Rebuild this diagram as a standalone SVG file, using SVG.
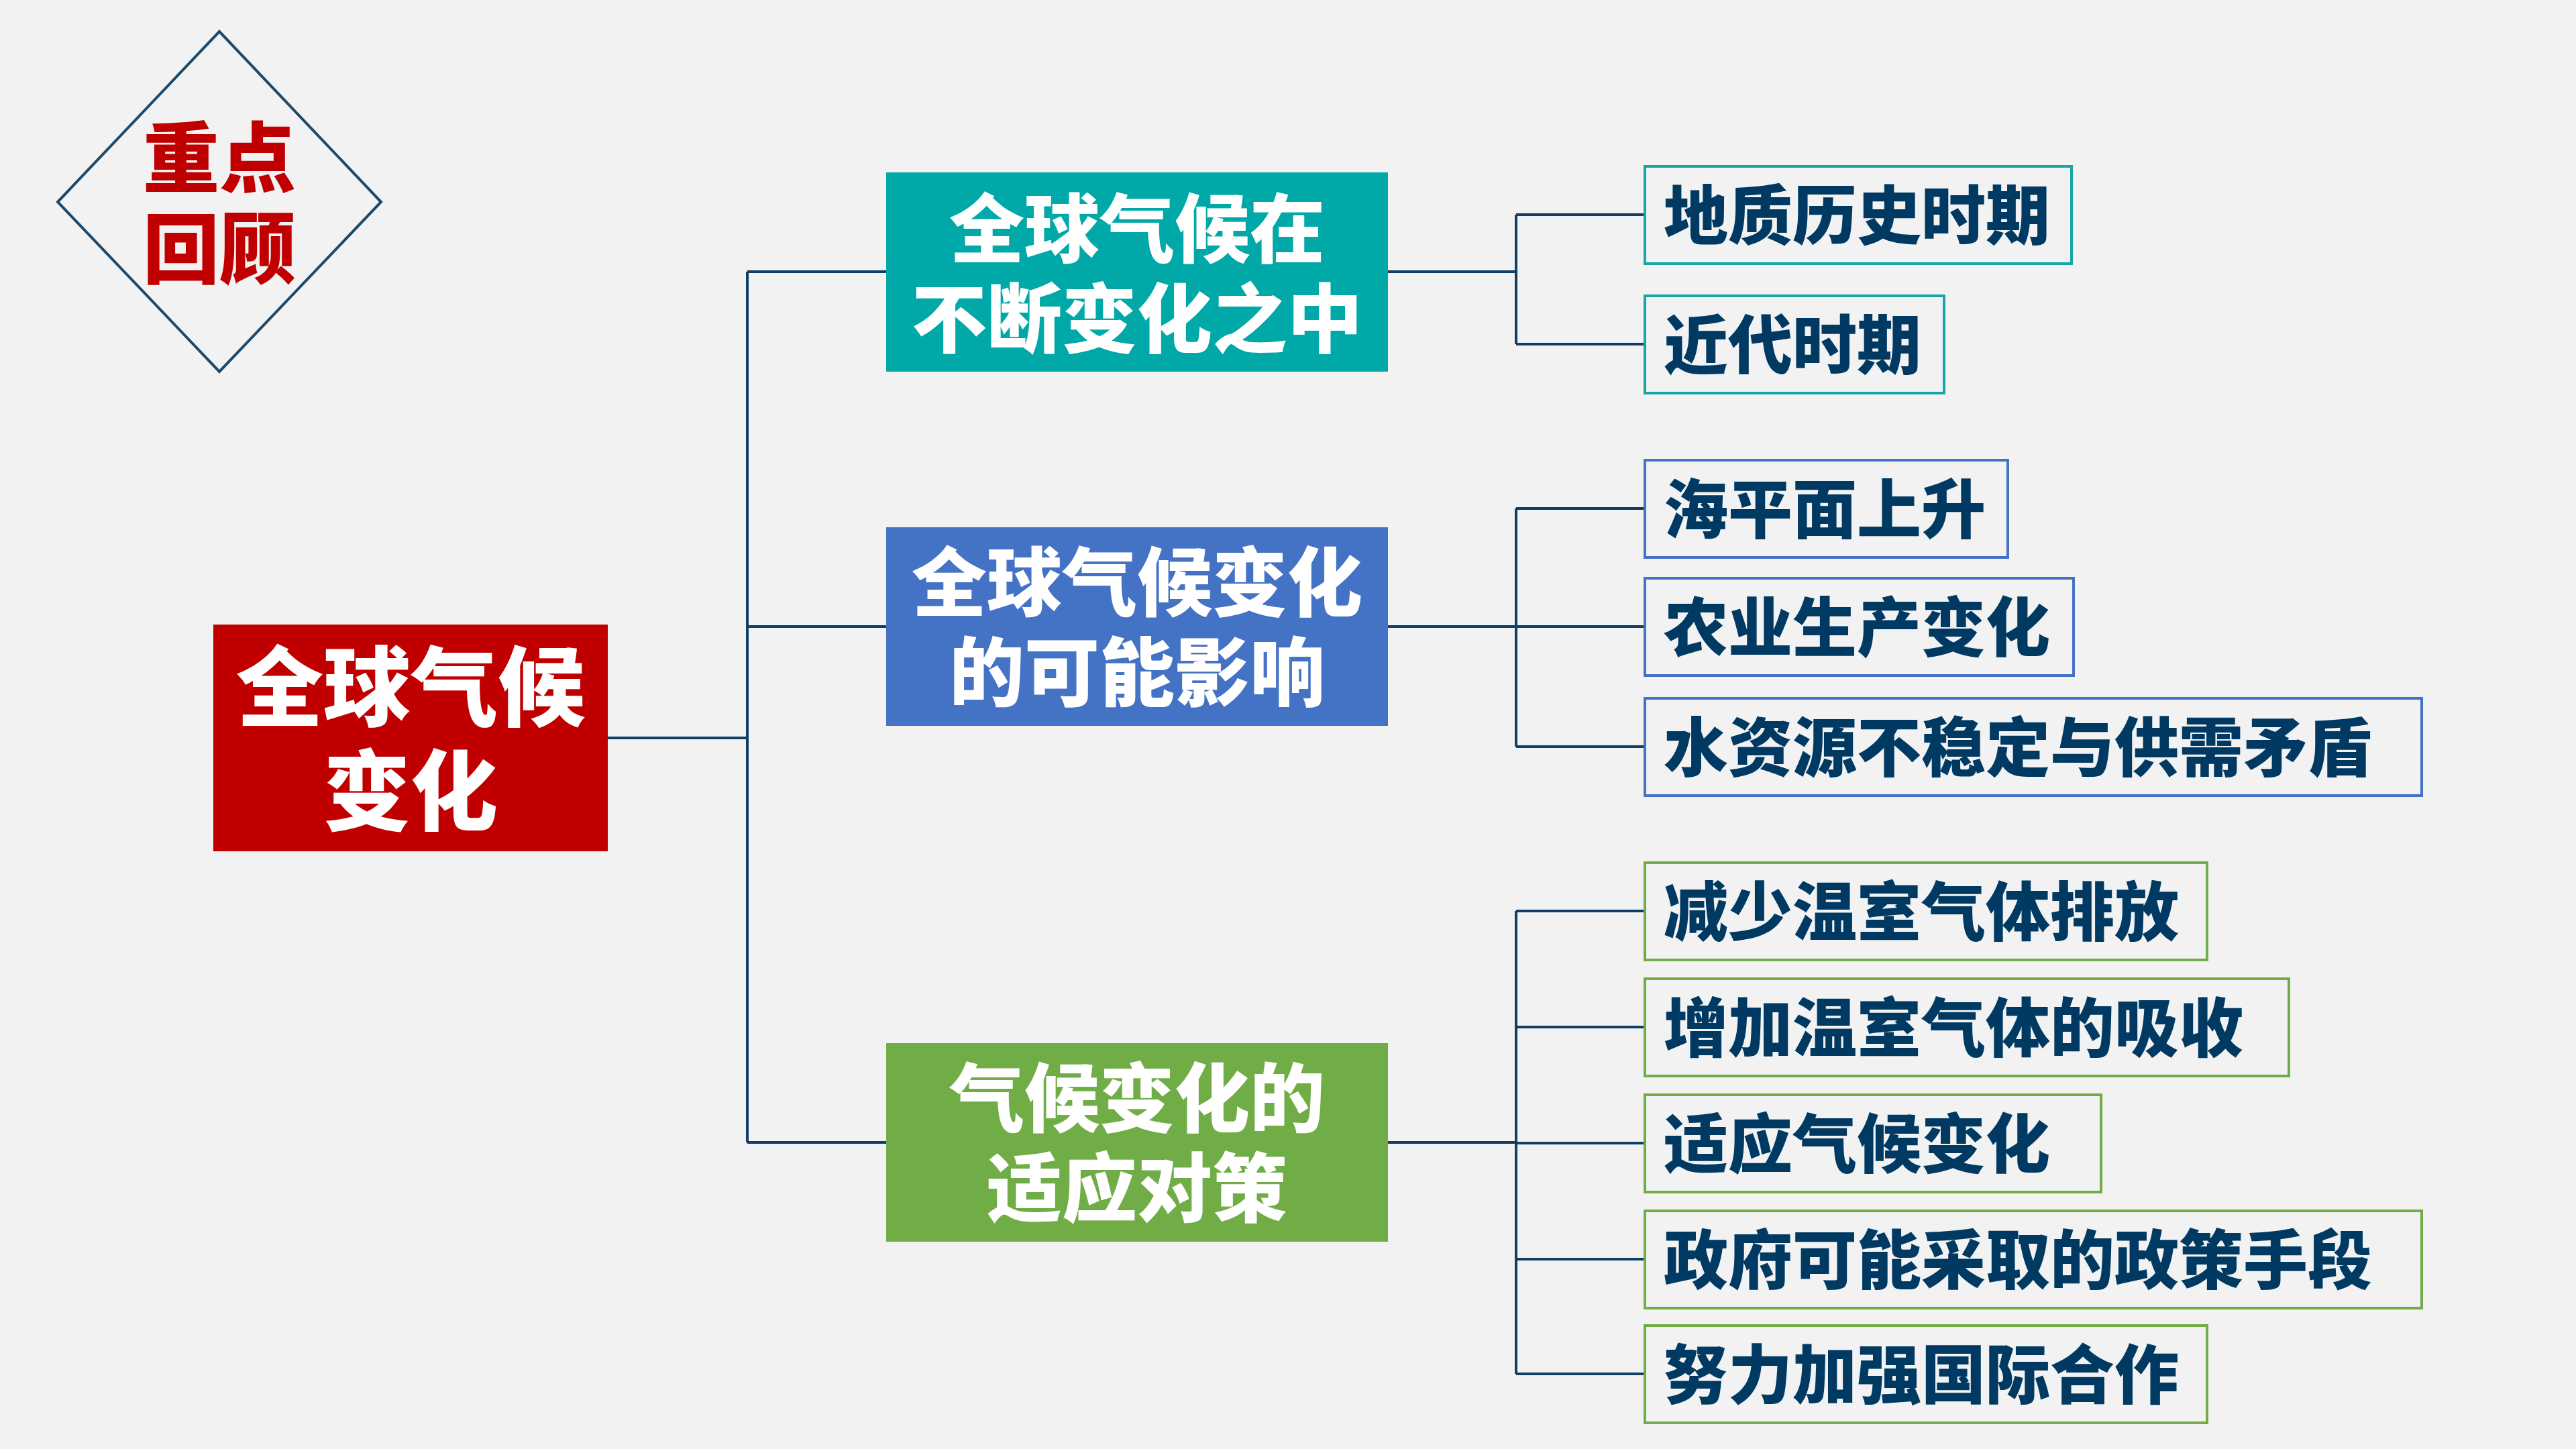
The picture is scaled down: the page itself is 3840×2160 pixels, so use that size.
<svg xmlns="http://www.w3.org/2000/svg" width="3840" height="2160" viewBox="0 0 3840 2160">
<style>
.t{font-family:"Noto Sans CJK SC","Noto Sans",sans-serif;font-weight:900}
.w{fill:#FFFFFF;text-anchor:middle}
.l{fill:#003A63;font-size:96px}
.leaf{fill:#F2F2F2;stroke-width:4}
.c{fill:none;stroke:#0F3F66;stroke-width:4}
</style>
<rect x="0" y="0" width="3840" height="2160" fill="#F2F2F2"/>
<g id="title">
<polygon points="327,47 568,301 327,554 86,301" fill="none" stroke="#1B4A6E" stroke-width="4"/>
<text class="t" font-size="114" fill="#C00000" text-anchor="middle"><tspan x="327" y="277">重点</tspan><tspan x="327" y="413">回顾</tspan></text>
</g>
<g id="connectors">
<path class="c" d="M906,1100H1114M1114,405V1703M1114,405H1321M1114,934H1321M1114,1703H1321"/>
<path class="c" d="M2069,405H2260M2260,320V513M2260,320H2452M2260,513H2452"/>
<path class="c" d="M2069,934H2260M2260,758V1113M2260,758H2452M2260,934H2452M2260,1113H2452"/>
<path class="c" d="M2069,1703H2260M2260,1358V2048M2260,1358H2452M2260,1531H2452M2260,1704H2452M2260,1877H2452M2260,2048H2452"/>
</g>
<g id="root">
<rect x="318" y="931" width="588" height="338" fill="#C00000"/>
<text class="t w" font-size="130"><tspan x="612" y="1072">全球气候</tspan><tspan x="612" y="1227">变化</tspan></text>
</g>
<g id="n1">
<rect x="1321" y="257" width="748" height="297" fill="#00A8A8"/>
<text class="t w" font-size="112"><tspan x="1695" y="383">全球气候在</tspan><tspan x="1695" y="517">不断变化之中</tspan></text>
</g>
<g id="n2">
<rect x="1321" y="786" width="748" height="296" fill="#4472C4"/>
<text class="t w" font-size="112"><tspan x="1695" y="910">全球气候变化</tspan><tspan x="1695" y="1044">的可能影响</tspan></text>
</g>
<g id="n3">
<rect x="1321" y="1555" width="748" height="296" fill="#70AD47"/>
<text class="t w" font-size="112"><tspan x="1695" y="1679">气候变化的</tspan><tspan x="1695" y="1813">适应对策</tspan></text>
</g>
<g id="l1a"><rect class="leaf" x="2452" y="248" width="636" height="145" stroke="#17A6A6"/><text class="t l" x="2480" y="356">地质历史时期</text></g>
<g id="l1b"><rect class="leaf" x="2452" y="441" width="446" height="145" stroke="#17A6A6"/><text class="t l" x="2480" y="549">近代时期</text></g>
<g id="l2a"><rect class="leaf" x="2452" y="686" width="541" height="145" stroke="#4472C4"/><text class="t l" x="2480" y="794">海平面上升</text></g>
<g id="l2b"><rect class="leaf" x="2452" y="862" width="639" height="145" stroke="#4472C4"/><text class="t l" x="2480" y="970">农业生产变化</text></g>
<g id="l2c"><rect class="leaf" x="2452" y="1041" width="1158" height="145" stroke="#4472C4"/><text class="t l" x="2480" y="1149">水资源不稳定与供需矛盾</text></g>
<g id="l3a"><rect class="leaf" x="2452" y="1286" width="838" height="145" stroke="#70AD47"/><text class="t l" x="2480" y="1394">减少温室气体排放</text></g>
<g id="l3b"><rect class="leaf" x="2452" y="1459" width="960" height="145" stroke="#70AD47"/><text class="t l" x="2480" y="1567">增加温室气体的吸收</text></g>
<g id="l3c"><rect class="leaf" x="2452" y="1632" width="680" height="145" stroke="#70AD47"/><text class="t l" x="2480" y="1740">适应气候变化</text></g>
<g id="l3d"><rect class="leaf" x="2452" y="1805" width="1158" height="145" stroke="#70AD47"/><text class="t l" x="2480" y="1913">政府可能采取的政策手段</text></g>
<g id="l3e"><rect class="leaf" x="2452" y="1976" width="838" height="145" stroke="#70AD47"/><text class="t l" x="2480" y="2084">努力加强国际合作</text></g>
</svg>
